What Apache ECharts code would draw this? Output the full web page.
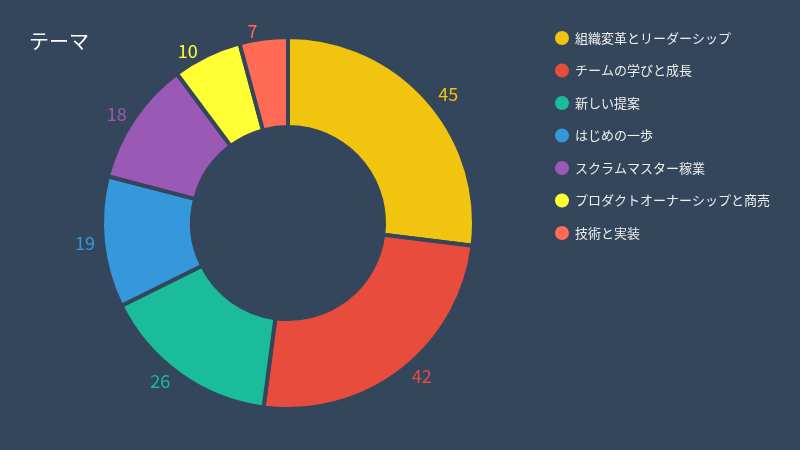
<!DOCTYPE html>
<html>
<head>
	<meta charset="utf-8">
	<title>テーマ</title>
	<script src="https://cdn.jsdelivr.net/npm/echarts@6/dist/echarts.min.js"></script>
	<style>body{margin:0;background:#34465b;}</style>
</head>
<body>
	<div id="main" style="width: 800px;height:450px;"></div>
	<script type="text/javascript">
	var categories = ['組織変革とリーダーシップ', 'チームの学びと成長', '新しい提案', 'はじめの一歩', 'スクラムマスター稼業', 'プロダクトオーナーシップと商売', '技術と実装'];
	var values = [45, 42, 26, 19, 18, 10, 7];
	var colors = ['#f1c40f', '#e74c3c', '#1abc9c', '#3498db', '#9b59b6', '#ffff33', '#ff6b55'];

	var myChart = echarts.init(document.getElementById('main'));
	var bg = '#34465b';

	var option = {
		backgroundColor: bg,
		color: colors,
		textStyle: { fontFamily: 'Noto Sans CJK JP' },
		title: {
			text: 'テーマ',
			left: 24,
			top: 26,
			textStyle: { color: '#ffffff', fontSize: 20, fontWeight: 'normal' }
		},
		legend: {
			orient: 'vertical',
			left: 548,
			top: 24,
			itemGap: 14.5,
			icon: 'circle',
			itemWidth: 16,
			itemHeight: 16,
			textStyle: { color: '#eeeeee', fontSize: 13 },
			data: categories
		},
		series: [{
			type: 'pie',
			center: [288, 223],
			radius: [96, 186],
			startAngle: 90,
			itemStyle: { borderColor: bg, borderWidth: 4 },
			label: {
				show: true,
				position: 'outside',
				fontSize: 18,
				color: 'inherit',
				formatter: '{c}'
			},
			labelLine: { show: false, length: 8, length2: 0 },
			data: categories.map(function (c, i) {
				return { name: c, value: values[i], label: { color: colors[i] } };
			})
		}]
	};
	myChart.setOption(option);
	</script>
</body>
</html>
